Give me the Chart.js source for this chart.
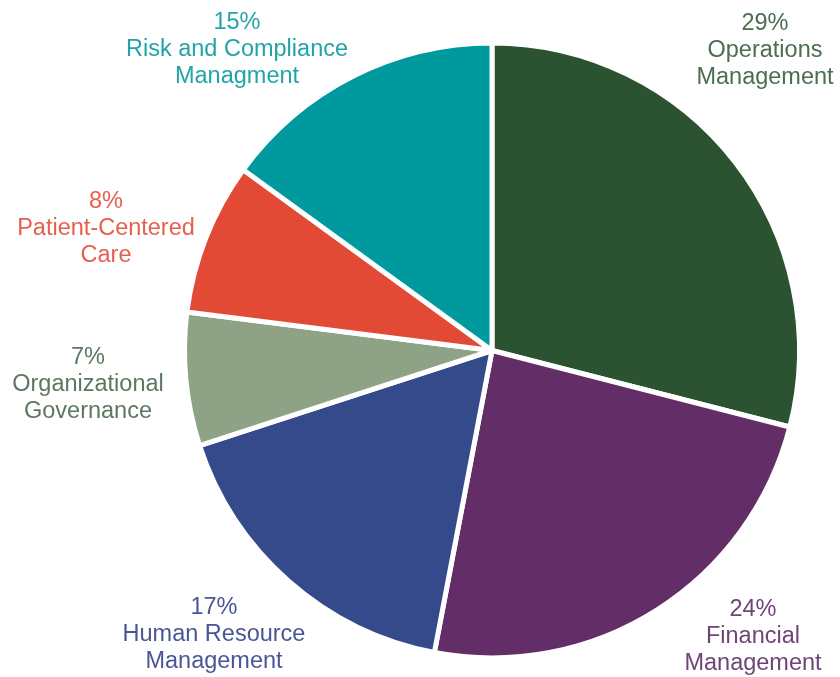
<!DOCTYPE html>
<html>
<head>
<meta charset="utf-8">
<script src="https://cdn.jsdelivr.net/npm/chart.js@4"></script>
<style>
  html, body { margin: 0; padding: 0; background: #ffffff; }
  #wrap { width: 840px; height: 677px; position: relative; }
</style>
</head>
<body>
<div id="wrap"><canvas id="c" width="840" height="677"></canvas></div>
<script>
// ---- data ----
const categories = [
  "Operations Management",
  "Financial Management",
  "Human Resource Management",
  "Organizational Governance",
  "Patient-Centered Care",
  "Risk and Compliance Managment"
];
const shares = [29, 24, 17, 7, 8, 15];
const labelLines = [
  ["Operations", "Management"],
  ["Financial", "Management"],
  ["Human Resource", "Management"],
  ["Organizational", "Governance"],
  ["Patient-Centered", "Care"],
  ["Risk and Compliance", "Managment"]
];

// ---- styles ----
const sliceColors = ["#2b5231", "#632d67", "#344a8a", "#8ea385", "#e34a35", "#00999e"];
const textColors  = ["#4b6e51", "#6f4476", "#4a5596", "#5d7860", "#e5604c", "#22a4a7"];
// label anchor (center x, first baseline) as offsets from pie centre, px
const labelOffsets = [[273, -321], [261, 265], [-278, 263], [-404, 13], [-386, -143], [-255, -322]];

const CX = 492, CY = 350.5, R = 310;
const W = 840, H = 677;

const labelPlugin = {
  id: 'outerLabels',
  afterDraw(chart) {
    const meta = chart.getDatasetMeta(0);
    const ctx = chart.ctx;
    ctx.save();
    ctx.font = '23.5px "Liberation Sans", Arial, sans-serif';
    ctx.textAlign = 'center';
    ctx.textBaseline = 'alphabetic';
    meta.data.forEach((arc, i) => {
      const x = arc.x + labelOffsets[i][0];
      const y = arc.y + labelOffsets[i][1];
      ctx.fillStyle = textColors[i];
      const lines = [shares[i] + "%"].concat(labelLines[i]);
      lines.forEach((t, k) => ctx.fillText(t, x, y + k * 27));
    });
    ctx.restore();
  }
};

new Chart(document.getElementById('c'), {
  type: 'pie',
  data: {
    labels: categories,
    datasets: [{
      data: shares,
      backgroundColor: sliceColors,
      borderColor: '#ffffff',
      borderWidth: 5
    }]
  },
  options: {
    responsive: false,
    animation: false,
    rotation: 0,
    layout: { padding: { left: CX - R, right: W - CX - R, top: CY - R, bottom: H - CY - R } },
    plugins: { legend: { display: false }, tooltip: { enabled: false } }
  },
  plugins: [labelPlugin]
});
</script>
</body>
</html>
